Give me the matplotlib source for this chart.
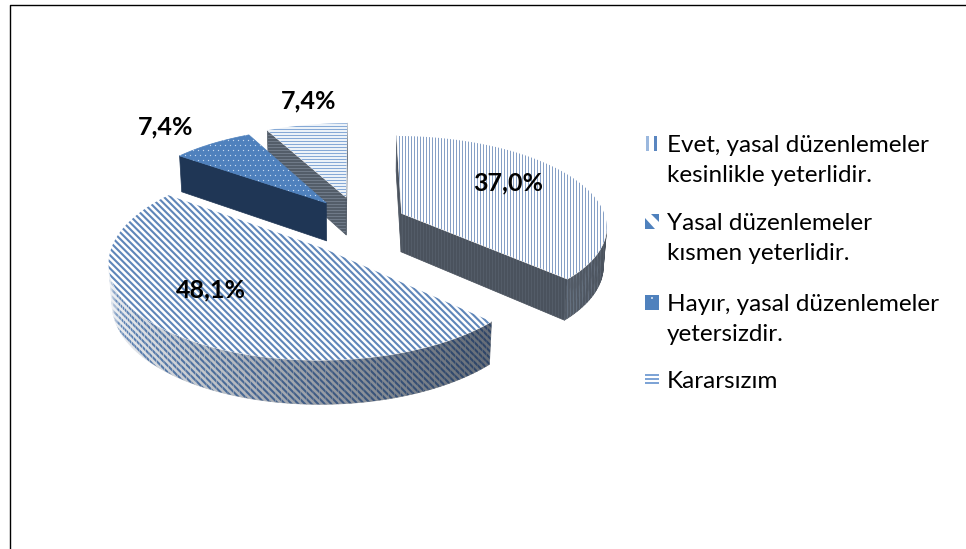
import numpy as np
import matplotlib
matplotlib.use("Agg")
import matplotlib.pyplot as plt
from matplotlib.patches import Polygon, Rectangle, Circle
from matplotlib.lines import Line2D
from matplotlib.collections import LineCollection

# ---- data -------------------------------------------------------------
categories = [
    ["Evet, yasal düzenlemeler", "kesinlikle yeterlidir."],
    ["Yasal düzenlemeler", "kısmen yeterlidir."],
    ["Hayır, yasal düzenlemeler", "yetersizdir."],
    ["Kararsızım"],
]
values = [37.0, 48.1, 7.4, 7.4]
value_labels = ["37,0%", "48,1%", "7,4%", "7,4%"]

# ---- canvas in pixel units -------------------------------------------
W, H = 966, 549
fig = plt.figure(figsize=(W / 100, H / 100), dpi=100)
ax = fig.add_axes([0, 0, 1, 1])
ax.set_xlim(0, W)
ax.set_ylim(H, 0)
ax.axis("off")

FONT = ["Lato", "DejaVu Sans"]
PX = 0.72  # points per pixel at 100 dpi

# ---- simple perspective camera for the 3-D pie -----------------------
elev = np.radians(26)
sa, ca = np.sin(elev), np.cos(elev)
persp = 0.13
Dcam = ca / persp
scale = 206.0
F = scale * Dcam
cx, cy = 357.0, 225.0
thick = 0.213
explode_x, explode_y = 0.24, 0.33
cam = np.array([0.0, -Dcam * ca, Dcam * sa])


def proj(X, Y, Z):
    X = np.atleast_1d(np.asarray(X, float))
    Y = np.atleast_1d(np.asarray(Y, float))
    Z = np.atleast_1d(np.asarray(Z, float)) * np.ones_like(X)
    yc = Y * sa + Z * ca
    d = Dcam + Y * ca - Z * sa
    return np.column_stack([cx + F * X / d, cy - F * yc / d])


# fill patterns: (kind, period px, stroke px)
VERT = ("v", 3.0, 0.85)
DIAG = ("d", 6.6, 2.1)
HORZ = ("h", 3.0, 1.3)
DOTS = ("o", 5.0, 1.3)

# per-slice styling: top face, cut faces, outer rim (dark end, light end)
styles = [
    dict(top=("white", VERT, "#7290bd"),
         cut=("#4a525d", VERT, "#555e6b"),
         rim_dark=("#4a525d", "#66717f"), rim_light=("#c9d2dd", "#7d9cc6"),
         rim_pat=VERT),
    dict(top=("white", DIAG, "#5f86b9"),
         cut=("#59616c", DIAG, "#2e4466"),
         rim_dark=("#5a626d", "#2a3f60"), rim_light=("#f2f4f7", "#5f86b9"),
         rim_pat=DIAG),
    dict(top=("#4f81bd", DOTS, "#c9dbf0"),
         cut=("#1f3655", None, None),
         rim_dark=("#1f3655", None), rim_light=("#4f81bd", None),
         rim_pat=None),
    dict(top=("white", HORZ, "#86a9d6"),
         cut=("#4f5864", HORZ, "#6f7a88"),
         rim_dark=("#4f5864", "#737e8c"), rim_light=("#c4d3e6", "#86a9d6"),
         rim_pat=HORZ),
]

zc = [10]


def pattern(clip, pts, pat, color, z):
    kind, per, w = pat
    x0, y0 = pts.min(axis=0) - per
    x1, y1 = pts.max(axis=0) + per
    if kind == "o":
        xs, ys = [], []
        for r, yy in enumerate(np.arange(np.floor(y0 / per) * per, y1, per)):
            shift = per / 2 if r % 2 else 0
            for xx in np.arange(np.floor(x0 / per) * per + shift, x1, per):
                xs.append(xx)
                ys.append(yy)
        sc = ax.scatter(xs, ys, s=(w * PX) ** 2, c=color, marker="o",
                        linewidths=0, zorder=z)
        sc.set_clip_path(clip)
        return
    segs = []
    if kind == "v":
        for xx in np.arange(np.floor(x0 / per) * per, x1, per):
            segs.append([(xx, y0), (xx, y1)])
    elif kind == "h":
        for yy in np.arange(np.floor(y0 / per) * per, y1, per):
            segs.append([(x0, yy), (x1, yy)])
    else:  # lines falling to the right: y = x + c
        cmin, cmax = y0 - x1, y1 - x0
        for c in np.arange(np.floor(cmin / per) * per, cmax, per):
            segs.append([(x0, x0 + c), (x1, x1 + c)])
    lc = LineCollection(segs, colors=color, linewidths=w * PX, zorder=z,
                        capstyle="butt")
    ax.add_collection(lc)
    lc.set_clip_path(clip)


def face(pts, bg, pat=None, pc=None):
    zc[0] += 1
    pts = np.asarray(pts, float)
    poly = Polygon(pts, closed=True, facecolor=bg, edgecolor=bg,
                   lw=0.5, zorder=zc[0], joinstyle="round")
    ax.add_patch(poly)
    if pat is not None:
        pattern(poly, pts, pat, pc, zc[0] + 0.5)


def mix(c1, c2, t):
    a = np.array(matplotlib.colors.to_rgb(c1))
    b = np.array(matplotlib.colors.to_rgb(c2))
    return tuple(a + (b - a) * t)


def visible(normal, point):
    return np.dot(normal, cam - point) > 0


fracs = np.array(values) / np.sum(values)
bounds = np.concatenate([[0], np.cumsum(fracs)]) * 360.0

slices = []
for i in range(len(values)):
    t0, t1 = bounds[i], bounds[i + 1]
    mid = np.radians((t0 + t1) / 2)
    ox, oy = explode_x * np.sin(mid), explode_y * np.cos(mid)
    slices.append((i, t0, t1, ox, oy))

# painter's order: farthest slice first
order = sorted(slices, key=lambda s: -s[4])

for i, t0, t1, ox, oy in order:
    st = styles[i]
    th = np.radians(np.linspace(t0, t1, max(int((t1 - t0) / 1.5), 2) + 1))
    X = ox + np.sin(th)
    Y = oy + np.cos(th)
    top_rim = proj(X, Y, 0)
    bot_rim = proj(X, Y, -thick)
    apex_t = proj(ox, oy, 0)[0]
    apex_b = proj(ox, oy, -thick)[0]

    # cut faces
    a0, a1 = np.radians(t0), np.radians(t1)
    for ang, nrm, pt_t, pt_b in [
        (a0, np.array([-np.cos(a0), np.sin(a0), 0]), top_rim[0], bot_rim[0]),
        (a1, np.array([np.cos(a1), -np.sin(a1), 0]), top_rim[-1], bot_rim[-1]),
    ]:
        mpt = np.array([ox + 0.5 * np.sin(ang), oy + 0.5 * np.cos(ang), -thick / 2])
        if visible(nrm, mpt):
            bg, pat, pc = st["cut"]
            face([apex_t, pt_t, pt_b, apex_b], bg, pat, pc)

    # outer rim, shaded by direction
    for j in range(len(th) - 1):
        tm = 0.5 * (th[j] + th[j + 1])
        nrm = np.array([np.sin(tm), np.cos(tm), 0])
        mpt = np.array([ox + np.sin(tm), oy + np.cos(tm), -thick / 2])
        if not visible(nrm, mpt):
            continue
        b = np.clip((1 - np.sin(tm)) / 2, 0, 1) ** 1.3
        bg = mix(st["rim_dark"][0], st["rim_light"][0], b)
        pc = mix(st["rim_dark"][1], st["rim_light"][1], b) if st["rim_pat"] else None
        face([top_rim[j], top_rim[j + 1], bot_rim[j + 1], bot_rim[j]],
             bg, st["rim_pat"], pc)

    # top face
    bg, pat, pc = st["top"]
    face(np.vstack([[apex_t], top_rim]), bg, pat, pc)

# ---- value labels (radius from slice apex, angle shift from mid) -----
label_pos = [(0.67, -9.6), (0.64, 10.4), (1.37, -2.5), (1.37, 3.6)]
for (i, t0, t1, ox, oy), (r, dth) in zip(slices, label_pos):
    m = np.radians((t0 + t1) / 2 + dth)
    p = proj(ox + r * np.sin(m), oy + r * np.cos(m), 0)[0]
    ax.text(p[0], p[1], value_labels[i], ha="center", va="center",
            fontsize=18, fontweight="bold", family=FONT, color="black",
            zorder=500)

# ---- legend ----------------------------------------------------------
leg_x, key_x = 667, 645
first_base = [152, 230, 311, 388]
line_gap = 30
for i, lines in enumerate(categories):
    for j, line in enumerate(lines):
        ax.text(leg_x, first_base[i] + j * line_gap, line, ha="left",
                va="baseline", fontsize=17.5, family=FONT, color="black",
                zorder=500)

kw, kh = 14, 15
ky = [b - 16 for b in first_base]
# key 1: vertical bars
ax.add_patch(Rectangle((key_x + 1, ky[0]), 3, kh, color="#9bb8de", lw=0, zorder=500))
ax.add_patch(Rectangle((key_x + 9, ky[0]), 3, kh, color="#5a86c0", lw=0, zorder=500))
# key 2: diagonal stripe sample
ax.add_patch(Polygon([(key_x, ky[1] + 4), (key_x, ky[1] + kh), (key_x + 10, ky[1] + kh)],
                     color="#4f81bd", lw=0, zorder=500))
ax.add_patch(Polygon([(key_x + 6, ky[1]), (key_x + kw, ky[1]), (key_x + kw, ky[1] + 8)],
                     color="#4f81bd", lw=0, zorder=500))
# key 3: solid with dot
ax.add_patch(Rectangle((key_x, ky[2]), kw, kh, color="#4f81bd", lw=0, zorder=500))
ax.add_patch(Circle((key_x + 7, ky[2] + 3), 0.9, color="white", lw=0, zorder=501))
# key 4: horizontal bars
for yy in (ky[3] + 2, ky[3] + 6, ky[3] + 10):
    ax.add_patch(Rectangle((key_x, yy), kw, 2.2, color="#7ea4d6", lw=0, zorder=500))

# ---- chart frame -----------------------------------------------------
ax.add_line(Line2D([9.5, 9.5, W], [H, 4.5, 4.5], color="black", lw=1.0, zorder=600))

fig.savefig("out.png", dpi=100)
